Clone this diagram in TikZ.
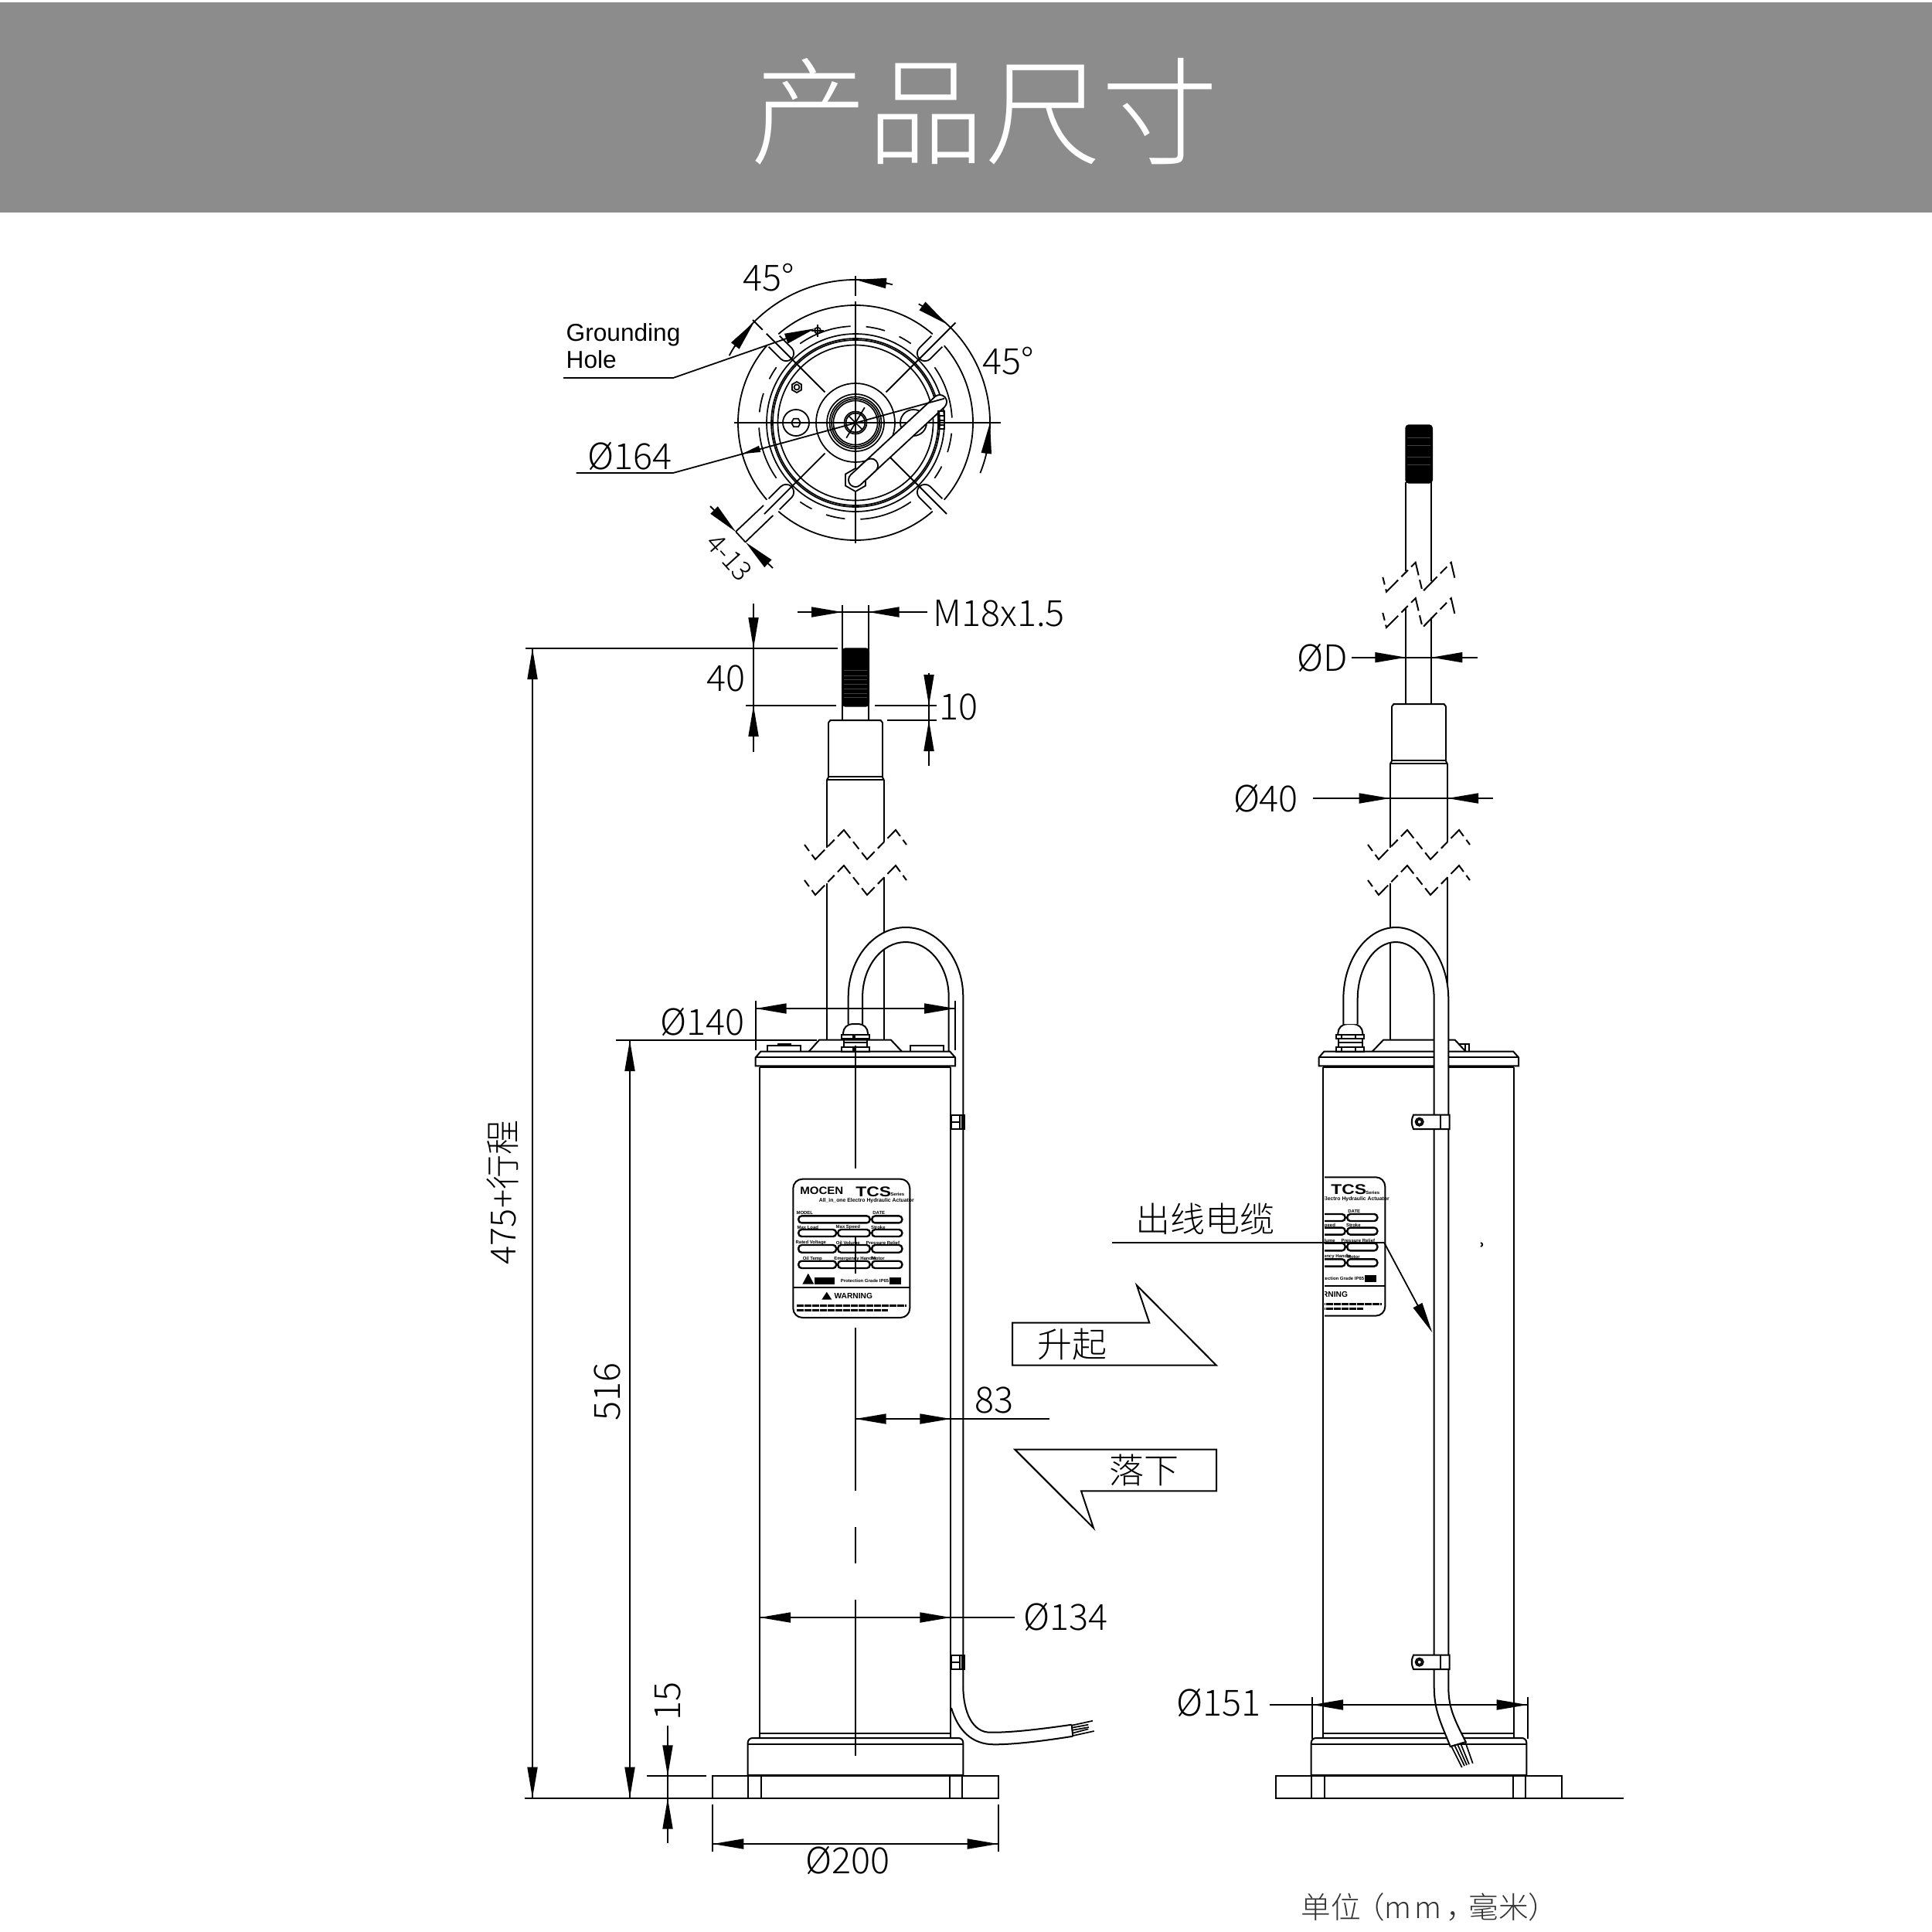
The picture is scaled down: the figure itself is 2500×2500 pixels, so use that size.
\documentclass[tikz,border=0pt]{standalone}
\usepackage{fontspec}
\usepackage{xcolor}
\usetikzlibrary{arrows.meta}
\newfontfamily\dimfont{Noto Sans CJK SC Light}
\newfontfamily\platefont{Liberation Sans}
\definecolor{bandgray}{HTML}{8C8C8C}

% 铭牌(局部坐标,左上角为原点)
\newcommand{\nameplate}{
    \draw[part, rounded corners=1.2mm] (0,0) rectangle (151,179.3);
    \draw[part] (0,140.3) -- (151,140.3);
    \node[tiny, font=\platefont\bfseries\fontsize{3.9pt}{5pt}\selectfont, xscale=1.1, transform shape] (platelogo) at (37,15) {MOCEN};
    \node[tiny, font=\platefont\fontsize{5.2pt}{6pt}\selectfont, xscale=1.25, transform shape] (platename) at (104,16) {\textbf{TCS}};
    \node[tiny] (plateseries) at (135,20) {Series};
    \node[tiny, font=\platefont\bfseries\fontsize{1.95pt}{3pt}\selectfont] (plateline) at (95,28) {All\_in\_one Electro Hydraulic Actuator};
    \draw[field] (7,47.7) rectangle (99.3,56.7);
    \draw[field] (102,47.7) rectangle (141,56.7);
    \foreach \ya/\yb in {65.3/74.3, 85.3/95, 106/115.3} {
        \draw[field] (7,\ya) rectangle (55.7,\yb);
        \draw[field] (58,\ya) rectangle (99.3,\yb);
        \draw[field] (102,\ya) rectangle (141,\yb);
    }
    \foreach \xa/\ya/\lab in {15/44/MODEL, 111/44/DATE, 19/62.5/Max Load, 71/62.5/Max Speed, 110/62.5/Stroke,
        23/82.5/Rated Voltage, 71/82.5/Oil Volume, 116/82.5/Pressure Relief,
        25/103/Oil Temp, 80/103/Emergency Handle, 110/103/Motor}
        \node[tiny] at (\xa,\ya) {\lab};
    \fill (12,136) -- (19.5,122) -- (27,136) -- cycle;
    \fill (28,127) rectangle (54,136);
    \node[tiny] (plategrade) at (97,132) {Protection Grade IP65 by};
    \fill (125,127) rectangle (140,136);
    \fill (37,156) -- (43.5,146) -- (50,156) -- cycle;
    \node[tiny, font=\platefont\bfseries\fontsize{2.9pt}{3pt}\selectfont] (platewarn) at (78,151.5) {WARNING};
    \draw[line width=.3mm, dash pattern=on .9mm off .1mm] (5,164) -- (147,164);
    \draw[line width=.3mm, dash pattern=on .9mm off .1mm] (5,170) -- (123,170);
}

\begin{document}
\begin{tikzpicture}[x=0.1mm, y=-0.1mm,
    part/.style={line width=.2mm},
    fine/.style={line width=.18mm},
    ring/.style={line width=.17mm},
    field/.style={line width=.24mm, rounded corners=.4mm},
    tiny/.style={font=\platefont\bfseries\fontsize{1.7pt}{2pt}\selectfont, inner sep=0pt},
    zigzag/.style={line width=.2mm, dash pattern=on 2.5mm off .6mm on 1.2mm off .6mm, dash phase=3.3mm},
    dimline/.style={line width=.18mm},
    dimarrow/.style={-{Triangle[length=4mm, width=1.3mm]}, line width=.18mm},
    dimtext/.style={font=\dimfont\fontsize{13.3pt}{15pt}\selectfont, inner sep=0pt},
    cjktext/.style={font=\dimfont\fontsize{12.8pt}{15pt}\selectfont, inner sep=0pt},
    ]
    \useasboundingbox (0,0) rectangle (2500,2500);

    % 标题
    \fill[bandgray] (0,3) rectangle (2500,275);
    \node[font=\dimfont\fontsize{43pt}{50pt}\selectfont, text=white, inner sep=0pt] (title) at (1274,144) {产品尺寸};

    % 俯视图
    \begin{scope}[shift={(1107,547)}]
        \foreach \a in {-135,-45,45,135} {
            \draw[fine] (\a+4:152) arc[start angle=\a+4, end angle=\a+86, radius=152];
            \draw[ring, dash pattern=on 7mm off 2mm on 2.5mm off 2mm] (\a+10:125) arc[start angle=\a+10, end angle=\a+80, radius=125];
            \begin{scope}[rotate=-\a]
                \draw[fine] (149,-10) -- (127,-10) arc[start angle=-90, end angle=-270, radius=10] -- (149,10);
            \end{scope}
        }
        \foreach \r in {115,109,107,100.5,51,37,33.5,31,28.6,14.5,12.5}
            \draw[ring] (0,0) circle[radius=\r];
        % 中心线
        \draw[fine] (0,-190) -- (0,-164);
        \draw[fine] (0,-157) -- (0,156);
        \draw[fine] (-157,0) -- (188,0);
        \draw[ring] (-59:23) -- (121:23);
        \draw[ring] (45:13) -- (225:13);
        \foreach \a/\r in {-135/163, -45/183, 45/167, 135/167}
            \draw[fine] (\a:56) -- (\a:\r);
        \draw[fine] (-135:170) -- (-135:188);
        % 螺钉
        \draw[fine] (-77,0) circle[radius=17];
        \draw[fine] (75,0) circle[radius=17];
        \draw[ring] (-77,0) ++(0:6) -- ++(120:6) -- ++(180:6) -- ++(240:6) -- ++(300:6) -- ++(0:6) -- cycle;
        \draw[fine] (-76,-46) ++(30:7) -- ++(150:7) -- ++(210:7) -- ++(270:7) -- ++(330:7) -- ++(30:7) -- cycle;
        \draw[ring] (-76,-46) circle[radius=3.5];
        % 出线
        \draw[line width=.2mm, double=white, double distance=1.6mm, line cap=round] (0,74) -- (109,-27);
        \draw[fine, fill=white] (0,59) -- (13,66.5) -- (13,81.5) -- (0,89) -- (-13,81.5) -- (-13,66.5) -- cycle;
        \draw[line width=.2mm, double=white, double distance=1.6mm, line cap=round] (0,74) -- (20,55.5);
        \draw[fine] (107,-15) rectangle (115.5,8);
        \foreach \y in {-9,-3,3}
            \draw[ring] (107,\y) -- (115.5,\y);
        % 角度标注
        \draw[fine] (-152:185) arc[start angle=-152, end angle=-75, radius=185];
        \draw[dimarrow] (-148:185) -- (-135:185);
        \draw[dimarrow] (-77:185) -- (-90:185);
        \draw[fine] (-62:174) arc[start angle=-62, end angle=22, radius=174];
        \draw[dimarrow] (-60:174) -- (-47:174);
        \draw[dimarrow] (13.5:174) -- (0:174);
        % 4-13
        \draw[fine] (-119,107) -- (-155,141);
        \draw[fine] (-106.7,120) -- (-142,154);
        \draw[dimarrow] (-188,108) -- (-154.7,141.3);
        \draw[dimarrow] (-107,188) -- (-142.2,154.7);
        \draw[fine] (-154.7,141.3) -- (-142.2,154.7);
    \end{scope}
    % 接地孔
    \draw[ring] (1058,427.7) circle[radius=4];
    \draw[ring] (1058,420) -- (1058,436);
    \draw[ring] (1050,427.7) -- (1066,427.7);
    \draw[dimline] (729,488.7) -- (872,488.7);
    \draw[dimarrow] (872,488.7) -- (1055,425);
    \node[font=\platefont\fontsize{9pt}{10pt}\selectfont, inner sep=0pt, anchor=west, align=left] (groundlabel) at (732,448) {Grounding\\Hole};
    \draw[dimline] (745.6,612) -- (871,612) -- (1222,515.7);
    \draw[-{Triangle[length=2.4mm, width=.8mm]}, line width=.18mm] (983.6,580.7) -- (960,587.3);

    \node[dimtext] (angleleft) at (994.5,359) {45°};
    \node[dimtext] (angleright) at (1305,467) {45°};
    \node[dimtext] (pcdlabel) at (815,590) {Ø164};
    \node[dimtext, font=\dimfont\fontsize{10pt}{12pt}\selectfont, rotate=-48] (slotlabel) at (944,721) {4-13};

    % 活塞杆与缸体(左右视图共用)
    \foreach \xo/\yo in {0/932, 729/911} {
        \begin{scope}[shift={(\xo,0)}]
            \draw[part] (1072,\yo+3) -- (1074.5,\yo) -- (1139.5,\yo) -- (1142,\yo+3);
            \draw[part] (1072,\yo+3) -- (1072,\yo+73) -- (1142,\yo+73) -- (1142,\yo+3);
            \draw[part] (1070,\yo+77) -- (1072,\yo+74);
            \draw[part] (1143.7,\yo+77) -- (1142,\yo+74);
            \draw[part] (1070,\yo+77) -- (1143.7,\yo+77);
            \draw[part] (1070,\yo+77) -- (1070,1097);
            \draw[part] (1143.7,\yo+77) -- (1143.7,1089);
            \draw[part] (1070,1143) -- (1070,1346);
            \draw[part] (1143.7,1135) -- (1143.7,1346);
            \draw[zigzag] (1041,1093) -- (1055,1112) -- (1092,1074) -- (1122,1112) -- (1159,1074) -- (1173,1093);
            \draw[zigzag] (1041,1139) -- (1055,1158) -- (1092,1120) -- (1122,1158) -- (1159,1120) -- (1173,1139);
        \end{scope}
    }

    % 左视图:杆端螺纹
    \draw[part] (1090,783) -- (1090,932);
    \draw[part] (1123.5,783) -- (1123.5,932);
    \draw[fill=black, rounded corners=.4mm] (1090,914) -- (1090,839) -- (1124.3,839) -- (1124.3,914) -- cycle;
    \foreach \y in {867,874,879,885,891,897,902}
        \draw[black!75, line width=.05mm] (1092,\y) -- (1122,\y);

    % 右视图:杆端螺纹
    \draw[part] (1819.3,624) -- (1819.3,739);
    \draw[part] (1852.3,624) -- (1852.3,752);
    \draw[part] (1819.3,786.7) -- (1819.3,911);
    \draw[part] (1852.3,799.4) -- (1852.3,911);
    \draw[fill=black, rounded corners=.4mm] (1819,625) -- (1819,550) -- (1853.3,550) -- (1853.3,625) -- cycle;
    \foreach \y in {566,576,591,601}
        \draw[black!75, line width=.05mm] (1821,\y) -- (1851,\y);
    \draw[zigzag] (1789.3,746.8) -- (1794,765.7) -- (1831.7,727.8) -- (1840.7,765.7) -- (1877.7,727.8) -- (1882.3,747.6);
    \draw[zigzag] (1789.3,793) -- (1794,812) -- (1831.7,774) -- (1840.7,812) -- (1877.7,774) -- (1882.3,794);

    % 左视图:线缆上段
    \fill[white] (1097.7,1325) -- (1097.7,1290) arc[start angle=180, end angle=360, x radius=74.3, y radius=90] -- (1246.3,1360) -- (1227.7,1360) -- (1227.7,1290) arc[start angle=360, end angle=180, x radius=55.8, y radius=71] -- (1116,1325) -- cycle;
    \draw[part] (1097.7,1325) -- (1097.7,1290) arc[start angle=180, end angle=360, x radius=74.3, y radius=90] -- (1246.3,2183);
    \draw[part] (1227.7,1360.7) -- (1227.7,1290) arc[start angle=360, end angle=180, x radius=55.8, y radius=71] -- (1116,1325);

    % 顶板上的凸台
    \draw[part] (993,1353) rectangle (1036,1360.7);
    \draw[part] (1006.7,1350.7) rectangle (1022.7,1353);
    \draw[part] (1177.7,1353.3) rectangle (1220.7,1360.7);
    \draw[part] (1046.7,1360.7) -- (1060,1345.7) -- (1153,1345.7) -- (1167,1360.7);
    \draw[part] (1814.7,1353.3) rectangle (1855.7,1360.7);
    \draw[part] (1888,1350.7) rectangle (1900.7,1360.7);
    \draw[part] (1896,1350.7) -- (1896,1360.7);
    \draw[part, fill=white] (1775.7,1360.7) -- (1790,1345.7) -- (1882.7,1345.7) -- (1896.7,1360.7);

    % 顶板、缸筒、底座、法兰(左右视图共用)
    \foreach \xo in {0,729} {
        \begin{scope}[shift={(\xo,0)}]
            \draw[part, fill=white] (977.7,1379.3) -- (977.7,1368.3) -- (984.3,1360.7) -- (1229.3,1360.7) -- (1236,1368.3) -- (1236,1379.3) -- cycle;
            \draw[part] (977.7,1368.3) -- (1236,1368.3);
            \draw[part] (983,1381) -- (1230.3,1381);
            \draw[part] (983,1381) -- (983,2249);
            \draw[part] (1230.3,1381) -- (1230.3,2249);
            \draw[part] (983,2243) -- (1230.3,2243);
            \draw[part, rounded corners=.6mm] (967.7,2297.3) -- (967.7,2249) -- (1246.3,2249) -- (1246.3,2297.3);
            \draw[part] (967.7,2256.7) -- (1246.3,2256.7);
            \draw[line width=.35mm] (967.7,2297.3) -- (1246.3,2297.3);
            \draw[part] (922.3,2326.7) -- (922.3,2298.3) -- (1291.7,2298.3) -- (1291.7,2326.7) -- cycle;
            \foreach \x in {968.3,985.3,1229,1245.3}
                \draw[part] (\x,2298.3) -- (\x,2326.7);
        \end{scope}
    }

    % 铭牌
    \begin{scope}[shift={(1026.3,1525.7)}]
        \nameplate
    \end{scope}
    \begin{scope}
        \clip (1714,1500) rectangle (1800,1720);
        \begin{scope}[shift={(1641.3,1523.3)}]
            \nameplate
        \end{scope}
    \end{scope}

    % 格兰头
    \foreach \xg/\ta/\tb in {1107/-2.7/-.7, 1747.3/-11.3/7} {
        \begin{scope}[shift={(\xg,0)}]
            \draw[part, rounded corners=1.2mm] (-16,1339) -- (-16,1325) -- (16,1325) -- (16,1339);
            \draw[part] (-18,1339) rectangle (18,1344.3);
            \draw[part] (-15.3,1344.3) rectangle (15.3,1355);
            \draw[part] (-15.3,1349.3) -- (15.3,1349.3);
            \draw[part] (-18,1355) rectangle (18,1360.7);
            \foreach \x in {\ta,\tb} {
                \draw[part] (\x,1339) -- (\x,1344.3);
                \draw[part] (\x,1355) -- (\x,1360.7);
            }
        \end{scope}
    }

    % 左视图:线缆下段
    \draw[part] (1246.3,2183) .. controls (1246.7,2215) and (1258,2242) .. (1281.7,2241.7) .. controls (1310,2242) and (1350,2237) .. (1386.7,2231.7);
    \draw[part] (1231,2210) .. controls (1240,2240) and (1258,2257.3) .. (1286.7,2257.3) .. controls (1315,2257.3) and (1355,2252) .. (1388.3,2246.7);
    \draw[part] (1386.7,2231.7) -- (1388.3,2246.7);
    \foreach \xa/\ya/\xb/\yb in {1386.7/2232.7/1414/2226.7, 1386.7/2235.7/1408.3/2231.7, 1386.7/2239/1409/2235, 1387.7/2242.7/1408.3/2237.3, 1388.3/2246/1415.7/2240}
        \draw[ring] (\xa,\ya) -- (\xb,\yb);

    % 右视图:线缆
    \draw[part, fill=white] (1738.3,1325) -- (1738.3,1293) arc[start angle=180, end angle=360, x radius=68, y radius=93] -- (1874.3,2183) .. controls (1874.3,2210) and (1882,2225) .. (1896.7,2254) -- (1876.7,2260) .. controls (1865,2230) and (1856,2215) .. (1855.7,2183) -- (1855.7,1293) arc[start angle=360, end angle=180, x radius=49.5, y radius=74] -- (1756.7,1325);
    \foreach \xa/\ya/\xb/\yb in {1878/2259.5/1891.7/2287, 1882/2258/1895/2285, 1886/2257/1898/2284, 1890/2256/1901/2283, 1896/2254/1905.7/2281.7}
        \draw[ring] (\xa,\ya) -- (\xb,\yb);

    % 线夹
    \foreach \y in {1442.7,2141.7} {
        \draw[part, fill=white] (1231,\y) rectangle (1241.7,\y+18.3);
        \draw[part] (1231,\y+9) -- (1241.7,\y+9);
        \draw[part] (1245,\y) -- (1245,\y+18.3);
        \draw[part] (1241.7,\y) -- (1247.7,\y) -- (1247.7,\y+18.3) -- (1241.7,\y+18.3);
        \draw[part, fill=white] (1875.7,\y) -- (1829,\y) .. controls (1826,\y+6) and (1826,\y+12) .. (1829,\y+18.3) -- (1875.7,\y+18.3) -- cycle;
        \draw[part] (1864.3,\y) -- (1864.3,\y+18.3);
        \draw[part] (1836.7,\y+9) circle[radius=5];
        \draw[ring] (1836.7,\y+9) circle[radius=3];
    }

    % 左视图中心线
    \foreach \ya/\yb in {1353/1512, 1600/1648, 1718/1929, 1976/2023, 2070/2271.7}
        \draw[part] (1106.7,\ya) -- (1106.7,\yb);

    % 左视图尺寸
    \draw[dimline] (1032,792) -- (1200,792);
    \draw[dimarrow] (1050,792) -- (1090,792);
    \draw[dimarrow] (1165,792) -- (1123.5,792);
    \node[dimtext, anchor=west] (threadlabel) at (1207,794) {M18x1.5};
    \draw[dimline] (680,839) -- (1084,839);
    \draw[dimline] (965,913) -- (1082,913);
    \draw[dimline] (1132,913) -- (1212,913);
    \draw[dimline] (1148,932) -- (1212,932);
    \draw[dimline] (975,781) -- (975,973);
    \draw[dimarrow] (975,799) -- (975,839);
    \draw[dimarrow] (975,953) -- (975,913);
    \node[dimtext] (threadlen) at (939,878) {40};
    \draw[dimline] (1202,871) -- (1202,991);
    \draw[dimarrow] (1202,873) -- (1202,913);
    \draw[dimarrow] (1202,972) -- (1202,932);
    \node[dimtext] (gaplen) at (1240,915) {10};
    \draw[dimline] (689,839) -- (689,2326.7);
    \draw[dimarrow] (689,879) -- (689,839);
    \draw[dimarrow] (689,2287) -- (689,2326.7);
    \node[cjktext, rotate=90] (strokelabel) at (650,1543) {475+行程};
    \draw[dimline] (797,1346) -- (1057,1346);
    \draw[dimline] (815,1346) -- (815,2326.7);
    \draw[dimarrow] (815,1386) -- (815,1346);
    \draw[dimarrow] (815,2287) -- (815,2326.7);
    \node[dimtext, rotate=90] (bodylabel) at (786,1801) {516};
    \draw[dimline] (679,2326.7) -- (922.3,2326.7);
    \draw[dimline] (836.7,2298.3) -- (914,2298.3);
    \draw[dimline] (864,2232.7) -- (864,2385);
    \draw[dimarrow] (864,2258.3) -- (864,2298.3);
    \draw[dimarrow] (864,2366.7) -- (864,2326.7);
    \node[dimtext, rotate=90] (flangelabel) at (864,2201.7) {15};
    \draw[dimline] (922.3,2335) -- (922.3,2396);
    \draw[dimline] (1291.7,2335) -- (1291.7,2396);
    \draw[dimline] (922.3,2386) -- (1291.7,2386);
    \draw[dimarrow] (962.7,2386) -- (922.3,2386);
    \draw[dimarrow] (1251,2386) -- (1291.7,2386);
    \node[dimtext] (flangewidth) at (1097,2407) {Ø200};
    \draw[dimline] (977.7,1295) -- (977.7,1359);
    \draw[dimline] (1236,1295) -- (1236,1359);
    \draw[dimline] (977.7,1305) -- (1236,1305);
    \draw[dimarrow] (1017.7,1305) -- (977.7,1305);
    \draw[dimarrow] (1187.7,1305) -- (1236,1305);
    \node[dimtext] (platewidth) at (909,1322) {Ø140};
    \draw[dimline] (983,2093) -- (1313,2093);
    \draw[dimarrow] (1023,2093) -- (983,2093);
    \draw[dimarrow] (1190,2093) -- (1230.3,2093);
    \node[dimtext] (bodywidth) at (1379,2092) {Ø134};
    \draw[dimline] (1106.7,1836) -- (1358,1836);
    \draw[dimarrow] (1146,1836) -- (1106.7,1836);
    \draw[dimarrow] (1190,1836) -- (1230.3,1836);
    \node[dimtext] (cableoffset) at (1286,1812) {83};

    % 升起、落下
    \draw[part] (1310,1711.7) -- (1487.3,1711.7) -- (1471,1663.3) -- (1574,1766.7) -- (1310,1766.7) -- cycle;
    \draw[part] (1313.3,1875.7) -- (1574,1875.7) -- (1574,1929.3) -- (1399,1929.3) -- (1415,1977.3) -- cycle;
    \node[cjktext] (raiselabel) at (1387,1740) {升起};
    \node[cjktext] (lowerlabel) at (1480,1902) {落下};

    % 右视图尺寸
    \draw[dimline] (1749.3,850.7) -- (1911.7,850.7);
    \draw[dimarrow] (1779.3,850.7) -- (1819.3,850.7);
    \draw[dimarrow] (1892.7,850.7) -- (1852.3,850.7);
    \node[dimtext] (rodwidth) at (1711,851) {ØD};
    \draw[dimline] (1699,1033) -- (1932,1033);
    \draw[dimarrow] (1759,1033) -- (1798.7,1033);
    \draw[dimarrow] (1913,1033) -- (1873,1033);
    \node[dimtext] (cylwidth) at (1638,1033) {Ø40};
    \draw[dimline] (1643,2206) -- (1976.7,2206);
    \draw[dimarrow] (1739,2206) -- (1698,2206);
    \draw[dimarrow] (1936.7,2206) -- (1976.7,2206);
    \draw[dimline] (1698,2196) -- (1698,2250);
    \draw[dimline] (1976.7,2196) -- (1976.7,2250);
    \node[dimtext] (basewidth) at (1577,2203) {Ø151};
    \draw[dimline] (1651,2326.7) -- (2100.7,2326.7);
    \draw[dimline] (1439,1607.7) -- (1791,1607.7);
    \draw[dimarrow] (1791,1607.7) -- (1853.3,1724.3);
    \node[cjktext] (cablelabel) at (1559,1577) {出线电缆};
    \draw[fine] (1916,1608) .. controls (1919,1609) and (1919,1612) .. (1916,1613);

    % 单位
    \node[cjktext, font=\dimfont\fontsize{11pt}{13pt}\selectfont, text=black!80] (unitlabel) at (1850,2468) {单位\kern-.2em（m\kern.1em m\kern.15em，\kern-.25em 毫米）};

\end{tikzpicture}
\end{document}
